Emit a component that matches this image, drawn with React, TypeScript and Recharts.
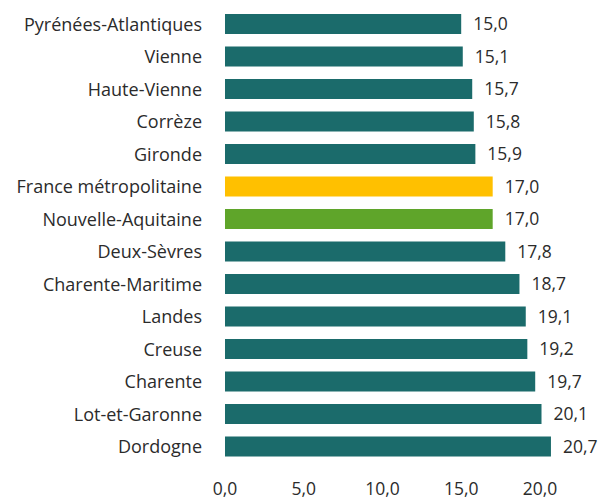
import React from "react";
import { BarChart, Bar, XAxis, YAxis, Cell, LabelList } from "recharts";

const categories = [
  "Pyrénées-Atlantiques",
  "Vienne",
  "Haute-Vienne",
  "Corrèze",
  "Gironde",
  "France métropolitaine",
  "Nouvelle-Aquitaine",
  "Deux-Sèvres",
  "Charente-Maritime",
  "Landes",
  "Creuse",
  "Charente",
  "Lot-et-Garonne",
  "Dordogne",
];
const values = [15.0, 15.1, 15.7, 15.8, 15.9, 17.0, 17.0, 17.8, 18.7, 19.1, 19.2, 19.7, 20.1, 20.7];
const xTicks = [0, 5, 10, 15, 20];

const TEAL = "#1B6B6B";
const YELLOW = "#FFC000";
const GREEN = "#5FA52A";

const colorFor = (name: string) =>
  name === "France métropolitaine" ? YELLOW : name === "Nouvelle-Aquitaine" ? GREEN : TEAL;

const data = categories.map((name, i) => ({ name, value: values[i] }));

const fmt = (v: any) => Number(v).toFixed(1).replace(".", ",");

const FONT = "'Open Sans', Lato, sans-serif";
const TEXT = "#2b2b2b";

export default function App() {
  return (
    <div style={{ width: 598, height: 494, fontFamily: FONT }}>
      <BarChart
        width={598}
        height={494}
        data={data}
        layout="vertical"
        margin={{ top: 0, right: 33, bottom: 0, left: 0 }}
      >
        <XAxis
          type="number"
          domain={[0, 22.1]}
          ticks={xTicks}
          tickFormatter={fmt}
          axisLine={false}
          tickLine={false}
          tickMargin={14}
          height={39}
          interval={0}
          tick={{ fill: TEXT, fontSize: 17.5, fontFamily: FONT }}
        />
        <YAxis
          type="category"
          dataKey="name"
          width={217}
          axisLine={false}
          tickLine={false}
          tickMargin={17}
          interval={0}
          tick={{ fill: TEXT, fontSize: 18, fontFamily: FONT }}
        />
        <Bar dataKey="value" barSize={20} isAnimationActive={false}>
          {data.map((d) => (
            <Cell key={d.name} fill={colorFor(d.name)} />
          ))}
          <LabelList
            dataKey="value"
            position="right"
            offset={12}
            formatter={fmt}
            style={{ fill: TEXT, fontSize: 17.5, fontFamily: FONT }}
          />
        </Bar>
      </BarChart>
    </div>
  );
}
